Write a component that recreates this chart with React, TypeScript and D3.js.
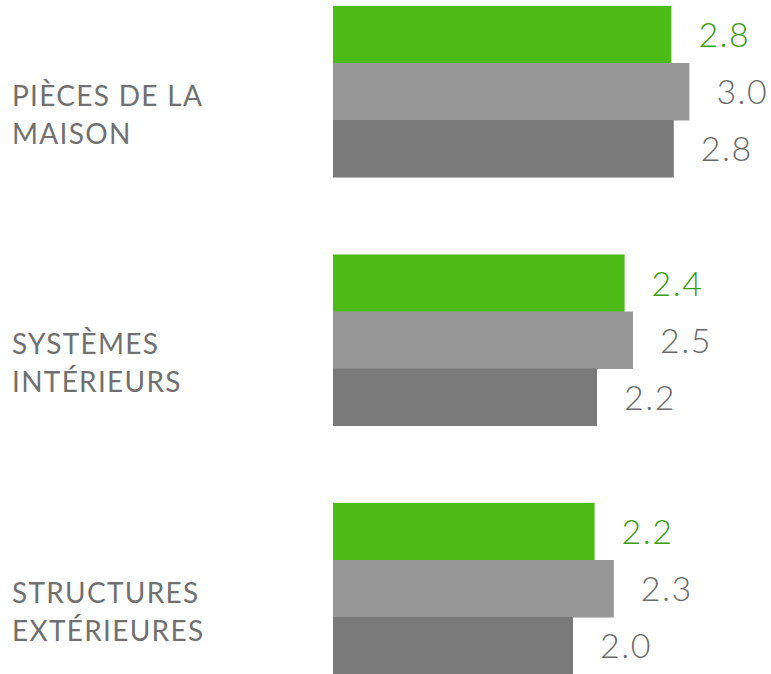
import React from "react";
import * as d3 from "d3";

const categories = [
  ["PIÈCES DE LA", "MAISON"],
  ["SYSTÈMES", "INTÉRIEURS"],
  ["STRUCTURES", "EXTÉRIEURES"],
];
const categoryKeys = ["pieces", "systemes", "structures"];
const seriesKeys = ["s1", "s2", "s3"];
const series1 = [2.82, 2.43, 2.18];
const series2 = [2.97, 2.5, 2.34];
const series3 = [2.84, 2.2, 2.0];
const seriesValues = [series1, series2, series3];
const barColors = ["#4dbb15", "#979797", "#7a7a7a"];
const labelColors = ["#3a9e0c", "#6a6a6a", "#6a6a6a"];

const W = 771;
const H = 674;

export default function App() {
  const x = d3.scaleLinear().domain([0, 1]).range([333, 453]);
  const y0 = d3
    .scaleBand<string>()
    .domain(categoryKeys)
    .range([6, 674])
    .paddingInner(77.5 / 248.5)
    .paddingOuter(0);
  const y1 = d3
    .scaleBand<string>()
    .domain(seriesKeys)
    .range([0, y0.bandwidth()]);
  const font = "Lato, 'Open Sans', sans-serif";
  return (
    <svg
      width={W}
      height={H}
      style={{ position: "absolute", left: 0, top: 0 }}
    >
      <rect x={0} y={0} width={W} height={H} fill="#fff" />
      {categoryKeys.map((c, ci) => {
        const gy = y0(c)!;
        const center = gy + y0.bandwidth() / 2;
        return (
          <g key={c}>
            {seriesKeys.map((s, si) => {
              const v = seriesValues[si][ci];
              const by = gy + y1(s)!;
              return (
                <g key={s}>
                  <rect
                    x={x(0)}
                    y={by}
                    width={x(v) - x(0)}
                    height={y1.bandwidth() + 0.5}
                    fill={barColors[si]}
                  />
                  <text
                    x={x(v) + 27}
                    y={by + y1.bandwidth() / 2 + 12.5}
                    fontFamily={font}
                    fontWeight={300}
                    fontSize={34}
                    letterSpacing={1.5}
                    fill={labelColors[si]}
                  >
                    {d3.format(".1f")(v)}
                  </text>
                </g>
              );
            })}
            {categories[ci].map((line, li) => (
              <text
                key={li}
                x={12}
                y={center + 14 + li * 38}
                fontFamily={font}
                fontWeight={400}
                fontSize={28}
                letterSpacing={1.3}
                fill="#707070"
              >
                {line}
              </text>
            ))}
          </g>
        );
      })}
    </svg>
  );
}
